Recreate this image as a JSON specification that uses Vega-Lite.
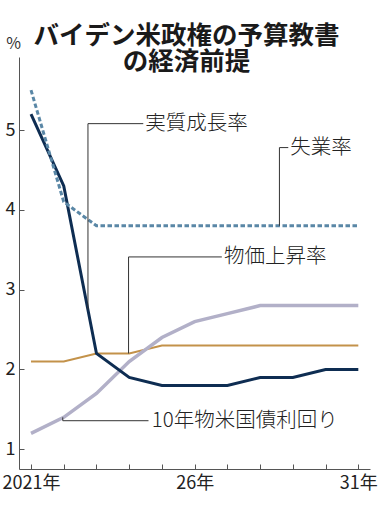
{
  "$schema": "https://vega.github.io/schema/vega-lite/v6.json",
  "width": 351,
  "height": 412,
  "autosize": {"type": "none"},
  "padding": {"left": 19, "top": 57, "right": 15, "bottom": 45},
  "background": "white",
  "title": {
    "text": ["バイデン米政権の予算教書", "の経済前提"],
    "font": "Noto Sans CJK JP",
    "fontSize": 25.5,
    "fontWeight": "bold",
    "lineHeight": 26,
    "color": "#1a1a1a",
    "anchor": "middle",
    "offset": -40,
    "dx": -8
  },
  "datasets": {
    "series": [
      {"series": "実質成長率", "year": 2021, "v": 5.2},
      {"series": "実質成長率", "year": 2022, "v": 4.3},
      {"series": "実質成長率", "year": 2023, "v": 2.2},
      {"series": "実質成長率", "year": 2024, "v": 1.9},
      {"series": "実質成長率", "year": 2025, "v": 1.8},
      {"series": "実質成長率", "year": 2026, "v": 1.8},
      {"series": "実質成長率", "year": 2027, "v": 1.8},
      {"series": "実質成長率", "year": 2028, "v": 1.9},
      {"series": "実質成長率", "year": 2029, "v": 1.9},
      {"series": "実質成長率", "year": 2030, "v": 2.0},
      {"series": "実質成長率", "year": 2031, "v": 2.0},
      {"series": "失業率", "year": 2021, "v": 5.5},
      {"series": "失業率", "year": 2022, "v": 4.1},
      {"series": "失業率", "year": 2023, "v": 3.8},
      {"series": "失業率", "year": 2024, "v": 3.8},
      {"series": "失業率", "year": 2025, "v": 3.8},
      {"series": "失業率", "year": 2026, "v": 3.8},
      {"series": "失業率", "year": 2027, "v": 3.8},
      {"series": "失業率", "year": 2028, "v": 3.8},
      {"series": "失業率", "year": 2029, "v": 3.8},
      {"series": "失業率", "year": 2030, "v": 3.8},
      {"series": "失業率", "year": 2031, "v": 3.8},
      {"series": "物価上昇率", "year": 2021, "v": 2.1},
      {"series": "物価上昇率", "year": 2022, "v": 2.1},
      {"series": "物価上昇率", "year": 2023, "v": 2.2},
      {"series": "物価上昇率", "year": 2024, "v": 2.2},
      {"series": "物価上昇率", "year": 2025, "v": 2.3},
      {"series": "物価上昇率", "year": 2026, "v": 2.3},
      {"series": "物価上昇率", "year": 2027, "v": 2.3},
      {"series": "物価上昇率", "year": 2028, "v": 2.3},
      {"series": "物価上昇率", "year": 2029, "v": 2.3},
      {"series": "物価上昇率", "year": 2030, "v": 2.3},
      {"series": "物価上昇率", "year": 2031, "v": 2.3},
      {"series": "10年物米国債利回り", "year": 2021, "v": 1.2},
      {"series": "10年物米国債利回り", "year": 2022, "v": 1.4},
      {"series": "10年物米国債利回り", "year": 2023, "v": 1.7},
      {"series": "10年物米国債利回り", "year": 2024, "v": 2.1},
      {"series": "10年物米国債利回り", "year": 2025, "v": 2.4},
      {"series": "10年物米国債利回り", "year": 2026, "v": 2.6},
      {"series": "10年物米国債利回り", "year": 2027, "v": 2.7},
      {"series": "10年物米国債利回り", "year": 2028, "v": 2.8},
      {"series": "10年物米国債利回り", "year": 2029, "v": 2.8},
      {"series": "10年物米国債利回り", "year": 2030, "v": 2.8},
      {"series": "10年物米国債利回り", "year": 2031, "v": 2.8}
    ],
    "leaders": [
      {"ann": "gdp", "i": 0, "year": 2022.74, "v": 2.75},
      {"ann": "gdp", "i": 1, "year": 2022.74, "v": 5.08},
      {"ann": "gdp", "i": 2, "year": 2024.43, "v": 5.08},
      {"ann": "unemp", "i": 0, "year": 2028.59, "v": 3.8},
      {"ann": "unemp", "i": 1, "year": 2028.59, "v": 4.78},
      {"ann": "unemp", "i": 2, "year": 2028.86, "v": 4.78},
      {"ann": "cpi", "i": 0, "year": 2023.98, "v": 2.2},
      {"ann": "cpi", "i": 1, "year": 2023.98, "v": 3.41},
      {"ann": "cpi", "i": 2, "year": 2026.83, "v": 3.41},
      {"ann": "bond", "i": 0, "year": 2021.97, "v": 1.4},
      {"ann": "bond", "i": 1, "year": 2021.97, "v": 1.358},
      {"ann": "bond", "i": 2, "year": 2024.59, "v": 1.358}
    ],
    "labels": [
      {"label": "実質成長率", "year": 2024.49, "v": 5.08},
      {"label": "失業率", "year": 2028.92, "v": 4.78},
      {"label": "物価上昇率", "year": 2026.9, "v": 3.41},
      {"label": "10年物米国債利回り", "year": 2024.69, "v": 1.358}
    ]
  },
  "encoding": {
    "x": {
      "field": "year",
      "type": "quantitative",
      "scale": {"domain": [2020.633, 2031.357], "nice": false, "zero": false},
      "axis": {
        "title": null,
        "values": [2021, 2022, 2023, 2024, 2025, 2026, 2027, 2028, 2029, 2030, 2031],
        "labelExpr": "datum.value == 2021 ? '2021年' : datum.value == 2026 ? '26年' : datum.value == 2031 ? '31年' : ''",
        "grid": false,
        "tickSize": -5,
        "labelPadding": 10,
        "labelFont": "Noto Sans CJK JP",
        "labelFontSize": 18,
        "labelColor": "#222",
        "labelFlush": false,
        "labelOverlap": false,
        "domainColor": "#555",
        "tickColor": "#555",
        "encode": {"labels": {"update": {"dx": {"signal": "datum.value == 2031 ? -10 : 0"}}}}
      }
    },
    "y": {
      "field": "v",
      "type": "quantitative",
      "scale": {"domain": [0.753, 5.915], "nice": false, "zero": false},
      "axis": {
        "title": "%",
        "titleAngle": 0,
        "titleX": -6,
        "titleY": -9,
        "titleAlign": "center",
        "titleBaseline": "alphabetic",
        "titleFont": "Noto Sans CJK JP",
        "titleFontSize": 16,
        "titleFontWeight": "normal",
        "titleColor": "#333",
        "values": [1, 2, 3, 4, 5],
        "grid": false,
        "tickSize": -5,
        "labelPadding": 9,
        "labelFont": "Noto Sans CJK JP",
        "labelFontSize": 18,
        "labelColor": "#222",
        "labelFlush": false,
        "domainColor": "#555",
        "tickColor": "#555"
      }
    }
  },
  "layer": [
    {
      "data": {"name": "series"},
      "transform": [{"filter": "datum.series == '物価上昇率'"}],
      "mark": {"type": "line", "color": "#c3924a", "strokeWidth": 2},
      "encoding": {}
    },
    {
      "data": {"name": "series"},
      "transform": [{"filter": "datum.series == '10年物米国債利回り'"}],
      "mark": {"type": "line", "color": "#b2b0c8", "strokeWidth": 3.5},
      "encoding": {}
    },
    {
      "data": {"name": "series"},
      "transform": [{"filter": "datum.series == '実質成長率'"}],
      "mark": {"type": "line", "color": "#0e2d52", "strokeWidth": 3},
      "encoding": {}
    },
    {
      "data": {"name": "series"},
      "transform": [{"filter": "datum.series == '失業率'"}],
      "mark": {"type": "line", "color": "#5a87a6", "strokeWidth": 3, "strokeDash": [4.5, 2.5]},
      "encoding": {}
    },
    {
      "data": {"name": "leaders"},
      "mark": {"type": "line", "color": "#333", "strokeWidth": 1},
      "encoding": {
        "detail": {"field": "ann"},
        "order": {"field": "i", "type": "quantitative"}
      }
    },
    {
      "data": {"name": "labels"},
      "mark": {
        "type": "text",
        "align": "left",
        "baseline": "middle",
        "font": "Noto Sans CJK JP",
        "fontSize": 20.5,
        "fontWeight": 300,
        "color": "#222"
      },
      "encoding": {"text": {"field": "label"}}
    }
  ],
  "config": {
    "view": {"stroke": null}
  }
}
